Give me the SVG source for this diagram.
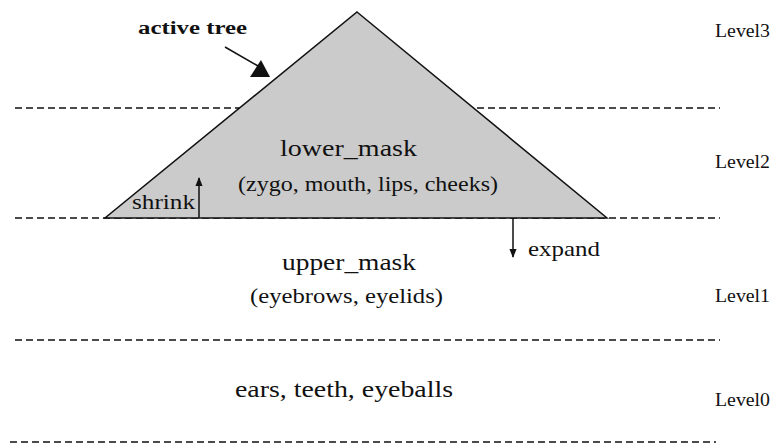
<svg xmlns="http://www.w3.org/2000/svg" width="779" height="448" viewBox="0 0 779 448">
<defs>
<style>
text{font-family:"Liberation Serif","DejaVu Serif","Times New Roman",serif;fill:#111}
.dash{stroke:#111;stroke-width:1.5;stroke-dasharray:7 4;fill:none}
.ln{stroke:#111;stroke-width:1.5;fill:none}
.lvl{font-size:18px}
</style>
<marker id="ah" viewBox="0 0 10 10" refX="9" refY="5" markerWidth="6" markerHeight="6" orient="auto">
<path d="M0,1 L10,5 L0,9 z" fill="#111"/>
</marker>
</defs>
<rect width="779" height="448" fill="#fff"/>
<g id="levels">
<line class="dash" x1="15" y1="108" x2="720" y2="108"/>
<line class="dash" x1="15" y1="218" x2="720" y2="218"/>
<line class="dash" x1="15" y1="340" x2="720" y2="340"/>
<line class="dash" x1="10" y1="442" x2="716" y2="442"/>
<text class="lvl" x="715" y="37" textLength="55" lengthAdjust="spacingAndGlyphs">Level3</text>
<text class="lvl" x="715" y="168" textLength="55" lengthAdjust="spacingAndGlyphs">Level2</text>
<text class="lvl" x="715" y="302" textLength="55" lengthAdjust="spacingAndGlyphs">Level1</text>
<text class="lvl" x="715" y="406" textLength="55" lengthAdjust="spacingAndGlyphs">Level0</text>
</g>
<g id="active_tree">
<polygon points="357,12 607,218 105,218" fill="#cbcbcb" stroke="#111" stroke-width="1.5"/>
<text x="280" y="156" font-size="24" textLength="137" lengthAdjust="spacingAndGlyphs">lower_mask</text>
<text x="238" y="191" font-size="21" textLength="260" lengthAdjust="spacingAndGlyphs">(zygo, mouth, lips, cheeks)</text>
</g>
<g id="label_active_tree">
<text x="138" y="34" font-size="18" font-weight="bold" textLength="109" lengthAdjust="spacingAndGlyphs">active tree</text>
</g>
<g id="upper_mask">
<text x="282" y="270" font-size="24" textLength="134" lengthAdjust="spacingAndGlyphs">upper_mask</text>
<text x="250" y="303" font-size="21" textLength="193" lengthAdjust="spacingAndGlyphs">(eyebrows, eyelids)</text>
</g>
<g id="level0_parts">
<text x="235" y="397" font-size="24" textLength="218" lengthAdjust="spacingAndGlyphs">ears, teeth, eyeballs</text>
</g>
<g id="shrink">
<text x="132" y="209" font-size="21" textLength="63" lengthAdjust="spacingAndGlyphs">shrink</text>
</g>
<g id="expand">
<text x="528" y="256" font-size="22" textLength="72" lengthAdjust="spacingAndGlyphs">expand</text>
</g>
<g id="connectors">
<line class="ln" x1="225" y1="47" x2="258" y2="66"/>
<polygon points="250,77 270,77 261,60" fill="#111"/>
<line class="ln" x1="199" y1="218" x2="199" y2="178" marker-end="url(#ah)"/>
<line class="ln" x1="513" y1="218" x2="513" y2="257" marker-end="url(#ah)"/>
</g>
</svg>
